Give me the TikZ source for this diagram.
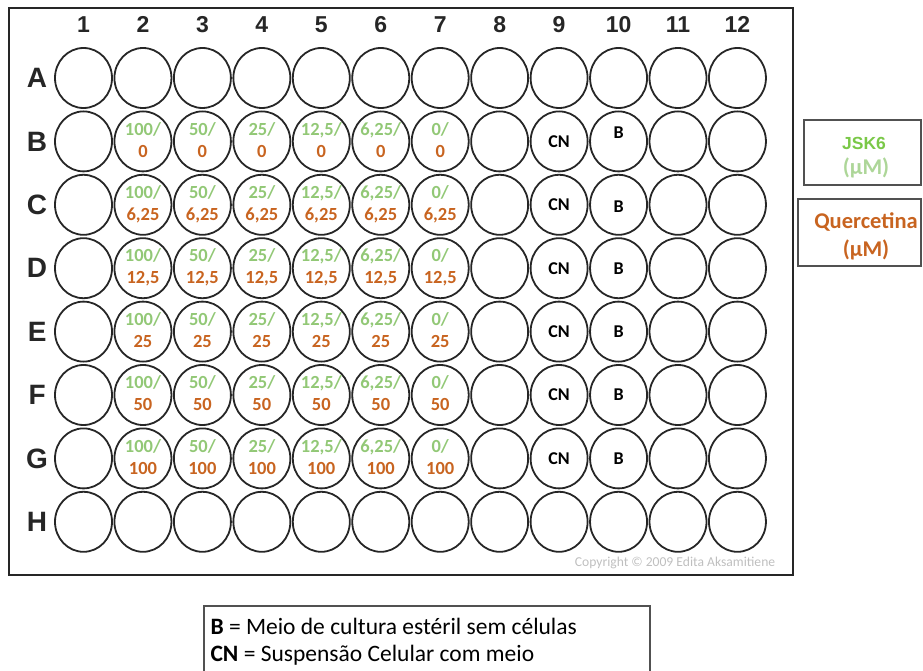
\documentclass[tikz,border=0pt]{standalone}
\usepackage{fontspec}
\setmainfont{Carlito}
\newfontfamily\arialfont{Liberation Sans}
\usetikzlibrary{shapes.geometric,positioning}
\definecolor{jskgreen}{RGB}{146,200,118}
\definecolor{jsktitle}{RGB}{122,200,72}
\definecolor{querorange}{RGB}{200,100,32}
\definecolor{plategray}{RGB}{38,38,38}

\begin{document}
\begin{tikzpicture}[x=1pt, y=-1pt,
  well/.style={ellipse, draw=plategray, line width=1.8pt,
               minimum width=57pt, minimum height=60pt, inner sep=0pt},
  collabel/.style={font=\arialfont\bfseries\fontsize{23}{23}\selectfont, text=plategray,
                   text height=0.72em, text depth=0pt},
  rowlabel/.style={font=\arialfont\bfseries\fontsize{28}{28}\selectfont, text=plategray},
  jsk/.style={font=\bfseries\fontsize{18.5}{18.5}\selectfont, text=jskgreen, inner sep=0pt,
              text height=0.68em, text depth=0.15em},
  querc/.style={font=\bfseries\fontsize{18.5}{18.5}\selectfont, text=querorange, inner sep=0pt,
                text height=0.68em, text depth=0.15em},
  ctrl/.style={font=\bfseries\fontsize{18}{18}\selectfont, text=black, inner sep=0pt},
  keybox/.style={draw=plategray!80, line width=1.2pt}
  ]
  \useasboundingbox (0,0) rectangle (923,671);

  %--- Plate frame
  \draw[line width=2.4pt, plategray] (9,8) rectangle (793,575);

  %--- Wells, 8 rows x 12 columns
  \foreach \r in {1,...,8}
    \foreach \c in {1,...,12}
      \node[well] (well-\r-\c) at ({83.5+(\c-1)*59.45},{78+(\r-1)*63.4}) {};

  %--- Column and row labels
  \foreach \c in {1,...,12}
    \node[collabel] (col-\c) at ([yshift=18pt]well-1-\c.north) {\c};
  \foreach \l [count=\r] in {A,B,C,D,E,F,G,H}
    \node[rowlabel] (row-\r) at ([xshift=-17pt]well-\r-1.west) {\l};

  %--- JSK6 / Quercetina concentrations
  \foreach \g [count=\c from 2] in {100,50,25,{12,5},{6,25},0}
    \foreach \q [count=\r from 2] in {0,{6,25},{12,5},25,50,100} {
      \node[jsk] (jsk-\r-\c) at ([yshift=9pt]well-\r-\c.center) {\g/};
      \node[querc] (quer-\r-\c) at ([yshift=-13pt]well-\r-\c.center) {\q};
    }

  %--- Controls (B in row B sits a bit higher)
  \foreach \r/\dy in {2/9,3/-2,4/0,5/0,6/0,7/0} {
    \node[ctrl] (cn-\r) at (well-\r-9) {CN};
    \node[ctrl] (b-\r) at ([yshift=\dy pt]well-\r-10.center) {B};
  }

  \node[text=black!25, font=\fontsize{13.6}{13.6}\selectfont] (copy) at (675,563)
    {Copyright \textcopyright{} 2009 Edita Aksamitiene};

  %--- Key boxes
  \draw[keybox] (804,120) rectangle (921,185);
  \node[font=\arialfont\bfseries\fontsize{17.5}{17.5}\selectfont, text=jsktitle] (jsk-title) at (864,143) {JSK6};
  \node[font=\bfseries\fontsize{22.5}{22.5}\selectfont, text=jskgreen!75] (jsk-unit) at (866,168) {(µM)};
  \draw[keybox] (798,199) rectangle (921,266);
  \node[font=\bfseries\fontsize{22.5}{22.5}\selectfont, text=querorange] (quer-title) at (866,222) {Quercetina};
  \node[font=\bfseries\fontsize{22.5}{22.5}\selectfont, text=querorange] (quer-unit) at (866,250) {(µM)};

  %--- Legend
  \draw[keybox] (204,606) rectangle (650,680);
  \node[anchor=west, align=left, font=\fontsize{23.5}{27}\selectfont] (legend) at (207,642)
    {\textbf{B} = Meio de cultura estéril sem células\\
     \textbf{CN} = Suspensão Celular com meio};

\end{tikzpicture}
\end{document}
